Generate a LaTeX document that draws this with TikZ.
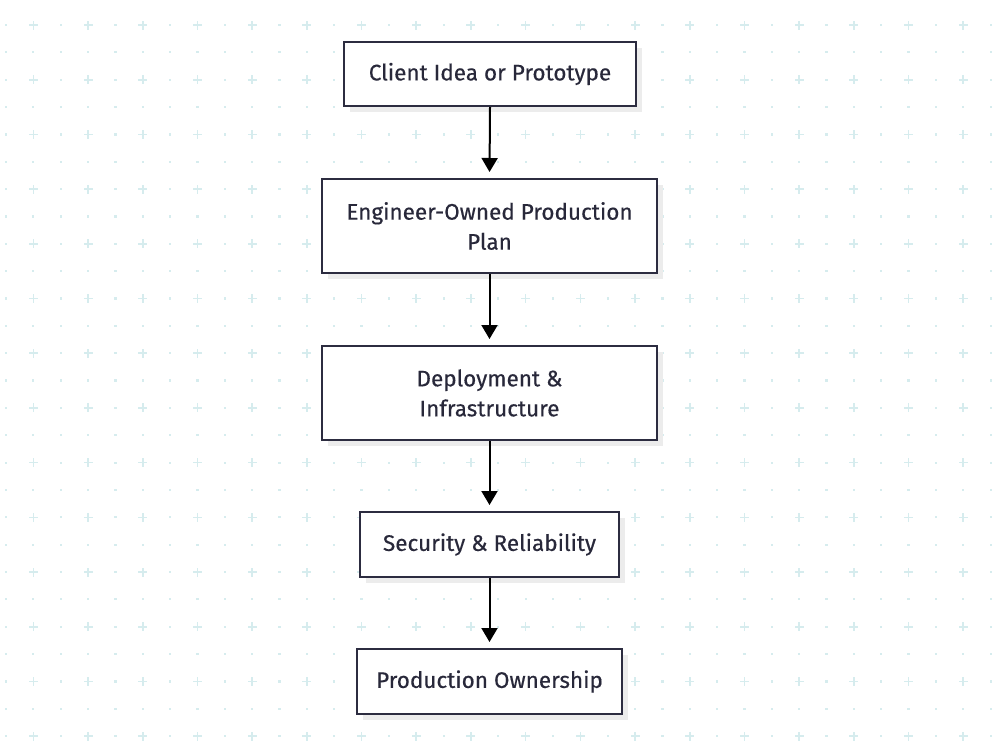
\documentclass[tikz,border=0pt]{standalone}
\usepackage{fontspec}
\setmainfont{Fira Sans}[FakeBold=0.4]
\usetikzlibrary{arrows.meta}
\definecolor{gridc}{RGB}{214,236,238}
\definecolor{edgec}{RGB}{44,44,64}
\definecolor{textc}{RGB}{40,40,58}
\definecolor{shadowc}{RGB}{236,236,236}
\tikzset{
  box/.style={draw=edgec, line width=2pt, fill=white, text=textc, align=center,
    font=\fontsize{22.5}{30}\selectfont, inner sep=0pt},
  flow/.style={draw=black, line width=2pt, -{Triangle[length=14pt,width=16pt]}, shorten >=6pt},
}
\begin{document}
\begin{tikzpicture}[x=1pt,y=-1pt]
\useasboundingbox (0,0) rectangle (1000,750);
\fill[white] (0,0) rectangle (1000,750);
% background grid
\foreach \j in {0,...,26}{
  \foreach \i in {0,...,36}{
    \pgfmathsetmacro{\xx}{6+27.35*\i}
    \pgfmathsetmacro{\yy}{25+27.35*\j}
    \pgfmathtruncatemacro{\pj}{mod(\j,2)}
    \pgfmathtruncatemacro{\pi}{mod(\i,2)}
    \ifnum\pj=0 \ifnum\pi=1
      \fill[gridc] (\xx-4.5,\yy-0.8) rectangle (\xx+4.5,\yy+0.8);
      \fill[gridc] (\xx-0.8,\yy-4.5) rectangle (\xx+0.8,\yy+4.5);
    \else
      \fill[gridc] (\xx-1.1,\yy-1.1) rectangle (\xx+1.1,\yy+1.1);
    \fi\else
      \fill[gridc] (\xx-1.1,\yy-1.1) rectangle (\xx+1.1,\yy+1.1);
    \fi
  }
}
% shadows
\fill[shadowc] (350,48) rectangle (642,112);
\fill[shadowc] (328,185) rectangle (663,279);
\fill[shadowc] (328,352) rectangle (663,446);
\fill[shadowc] (366,518) rectangle (625,583);
\fill[shadowc] (363,655) rectangle (628,720);
% nodes
\node[box, minimum width=292pt, minimum height=64pt] (n1) at (490,74) {Client Idea or Prototype};
\node[box, minimum width=335pt, minimum height=94pt] (n2) at (489.5,226) {Engineer-Owned Production\\Plan};
\node[box, minimum width=335pt, minimum height=94pt] (n3) at (489.5,393) {Deployment \&\\Infrastructure};
\node[box, minimum width=259pt, minimum height=65pt] (n4) at (489.5,544.5) {Security \& Reliability};
\node[box, minimum width=265pt, minimum height=65pt] (n5) at (489.5,681.5) {Production Ownership};
% connectors
\draw[flow] (n1.south) -- (n2.north);
\draw[flow] (n2.south) -- (n3.north);
\draw[flow] (n3.south) -- (n4.north);
\draw[flow] (n4.south) -- (n5.north);
\end{tikzpicture}
\end{document}
